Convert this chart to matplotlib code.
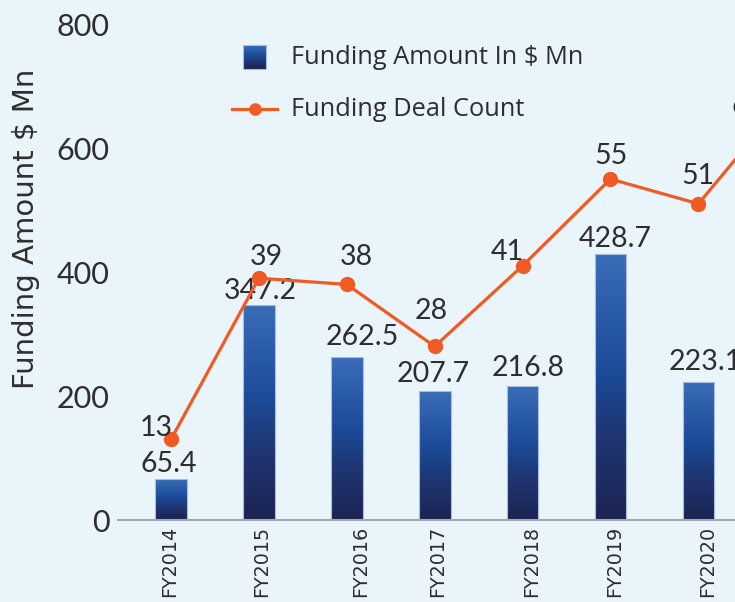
import numpy as np
import matplotlib
matplotlib.use("Agg")
import matplotlib.pyplot as plt
from matplotlib.colors import LinearSegmentedColormap
from matplotlib.lines import Line2D
from matplotlib.patches import Rectangle
from matplotlib.transforms import ScaledTranslation

# ---------------- data ----------------
years = ["FY2014", "FY2015", "FY2016", "FY2017", "FY2018", "FY2019", "FY2020", "FY2021"]
funding_amount = [65.4, 347.2, 262.5, 207.7, 216.8, 428.7, 223.1, np.nan]
deal_count = [13, 39, 38, 28, 41, 55, 51, 68]
y_ticks = [0, 200, 400, 600, 800]

# label placement tweaks (pixels)
amount_dx = [-2, 1, 15, -1, 6, 5, 7, 0]
amount_dy = [15, 14, 20, 17, 18, 15, 20, 0]
count_dx = [-15, 7, 10, -3, -15, 0, 0, -38]
count_dy = [11, 21, 27, 35, 14, 23, 28, -8]
tick_dx = [-1, 3, 14, 3, 9, 4, 9, 0]

BG = "#E9F4FB"
TEXT = "#2E2E2E"
ORANGE = "#F15A22"
LABEL_FONT = ["Lato", "DejaVu Sans"]
LEGEND_FONT = ["Open Sans", "DejaVu Sans"]
AXIS_FONT = ["DejaVu Sans"]

W, H, DPI = 735, 602, 100
fig = plt.figure(figsize=(W / DPI, H / DPI), dpi=DPI, facecolor=BG)
ax = fig.add_axes([118 / W, 1 - 520 / H, 721 / W, 496 / H])
ax.set_facecolor(BG)

x = np.arange(len(years))
amounts = np.array(funding_amount, dtype=float)
valid = ~np.isnan(amounts)

cmap = LinearSegmentedColormap.from_list(
    "bars", [(0.0, "#1B2453"), (0.3, "#1F3470"), (0.55, "#1B4A96"), (1.0, "#3A6DB7")])
grad = np.linspace(0, 1, 256).reshape(-1, 1)

bars = ax.bar(x[valid], amounts[valid], width=0.36, color="none",
              edgecolor="#A9BEDF", linewidth=0.8, zorder=2)
for b in bars:
    x0, y0, w, h = b.get_x(), b.get_y(), b.get_width(), b.get_height()
    im = ax.imshow(grad, extent=[x0, x0 + w, y0, y0 + h], origin="lower",
                   cmap=cmap, aspect="auto", zorder=1.9, interpolation="bilinear")
    im.set_clip_path(b)

ax.set_xlim(-0.603, 7.6)
ax.set_ylim(0, 800)

# amount labels
for i in np.where(valid)[0]:
    ax.annotate(f"{amounts[i]:.1f}", (x[i], amounts[i]),
                xytext=(amount_dx[i] * 0.72, amount_dy[i] * 0.72),
                textcoords="offset points", ha="center", va="center",
                fontsize=20.5, family=LABEL_FONT, color=TEXT, zorder=4)

# spines / ticks
for s in ["top", "right", "left"]:
    ax.spines[s].set_visible(False)
ax.spines["bottom"].set_color("#A3A9B0")
ax.spines["bottom"].set_linewidth(1.5)
ax.set_yticks(y_ticks)
ax.set_yticklabels([str(v) for v in y_ticks], fontsize=22, family=LABEL_FONT, color=TEXT)
ax.set_xticks(x)
ax.set_xticklabels(years, rotation=90, fontsize=13.8, family=AXIS_FONT, color=TEXT)
ax.tick_params(axis="both", length=0)
ax.tick_params(axis="y", pad=6)
ax.tick_params(axis="x", pad=4)
for lbl, dx in zip(ax.get_xticklabels(), tick_dx):
    lbl.set_transform(lbl.get_transform() + ScaledTranslation(dx / DPI, 0, fig.dpi_scale_trans))

# deal count on secondary axis
ax2 = ax.twinx()
ax2.set_ylim(0, 80)
ax2.set_xlim(ax.get_xlim())
ax2.plot(x, deal_count, color=ORANGE, lw=2.3, marker="o", ms=10, zorder=3)
ax2.set_axis_off()
for i, v in enumerate(deal_count):
    ax2.annotate(str(v), (x[i], v), xytext=(count_dx[i] * 0.72, count_dy[i] * 0.72),
                 textcoords="offset points", ha="center", va="center",
                 fontsize=20.5, family=LABEL_FONT, color=TEXT, zorder=4)

# y label
fig.text(26 / W, 1 - 229 / H, "Funding Amount $ Mn", rotation=90, ha="center", va="center",
         fontsize=21, family=AXIS_FONT, color=TEXT)

# legend (manual)
lax = fig.add_axes([243 / W, 1 - 69 / H, 23 / W, 24 / H])
lax.imshow(grad, origin="lower", cmap=cmap, aspect="auto", extent=[0, 1, 0, 1])
lax.set_axis_off()
fig.add_artist(Rectangle((243 / W, 1 - 69 / H), 23 / W, 24 / H, transform=fig.transFigure,
                         facecolor="none", edgecolor="#A9BEDF", lw=0.8))
fig.text(291 / W, 1 - 58 / H, "Funding Amount In $ Mn", ha="left", va="center",
         fontsize=18.3, family=LEGEND_FONT, color=TEXT)
fig.add_artist(Line2D([232 / W, 277 / W], [1 - 109 / H, 1 - 109 / H], transform=fig.transFigure,
                      color=ORANGE, lw=2.3))
fig.add_artist(Line2D([254.5 / W], [1 - 109 / H], transform=fig.transFigure,
                      color=ORANGE, marker="o", ms=8, lw=0))
fig.text(291 / W, 1 - 110 / H, "Funding Deal Count", ha="left", va="center",
         fontsize=18.3, family=LEGEND_FONT, color=TEXT)

fig.savefig("out.png", dpi=DPI, facecolor=BG)
